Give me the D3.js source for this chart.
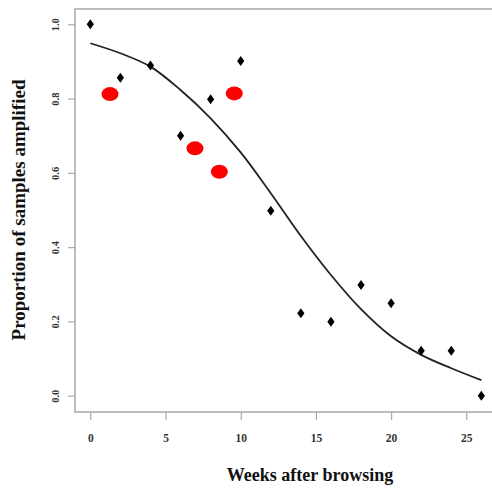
<!DOCTYPE html>
<html><head><meta charset="utf-8">
<script src="https://cdn.jsdelivr.net/npm/d3@7"></script>
<style>body{margin:0;background:#fff}svg{display:block}</style>
</head><body>
<script>
const weeks = [0,2,4,6,8,10,12,14,16,18,20,22,24,26];
const observed = [1.0,0.856,0.889,0.700,0.798,0.901,0.498,0.222,0.199,0.298,0.249,0.121,0.121,0.0];
const fitted = [0.949,0.922,0.886,0.823,0.747,0.655,0.545,0.430,0.325,0.233,0.160,0.110,0.074,0.042];
const redWeeks = [1.31,6.96,8.58,9.57];
const redValues = [0.812,0.666,0.603,0.814];
const xTicks = [0,5,10,15,20,25];
const yTicks = [0.0,0.2,0.4,0.6,0.8,1.0];

const W=492,H=489;
const svg=d3.select("body").append("svg").attr("width",W).attr("height",H);
const x=d3.scaleLinear().domain([0,25]).range([90.3,466.3]);
const y=d3.scaleLinear().domain([0,1]).range([395.7,24.3]);
const font="'Liberation Serif','Times New Roman',serif";
const frameCol="#a8a8a8";

// frame: top, left, bottom
svg.append("path").attr("d",`M${W},9H75V412H${W}`).attr("fill","none").attr("stroke",frameCol).attr("stroke-width",1.5);

// y axis
const ya=svg.append("g").attr("transform","translate(75,0)")
  .call(d3.axisLeft(y).tickValues(yTicks).tickFormat(d3.format(".1f")).tickSize(7).tickPadding(0));
ya.select(".domain").remove();
ya.selectAll("line").attr("stroke",frameCol).attr("stroke-width",1.2);
ya.selectAll("text").attr("font-family",font).attr("font-weight","bold").attr("font-size",10.5).attr("fill","#333")
  .attr("text-anchor","middle").attr("x",0).attr("dy",null)
  .attr("transform",d=>`translate(-20,0) rotate(-90)`).attr("y",3.5);

// x axis
const xa=svg.append("g").attr("transform","translate(0,412)")
  .call(d3.axisBottom(x).tickValues(xTicks).tickFormat(d3.format("d")).tickSize(8).tickPadding(14));
xa.select(".domain").remove();
xa.selectAll("line").attr("stroke",frameCol).attr("stroke-width",1.2);
xa.selectAll("text").attr("font-family",font).attr("font-weight","bold").attr("font-size",11.5).attr("fill","#333");

// labels
svg.append("text").attr("x",310).attr("y",481).attr("text-anchor","middle")
  .attr("font-family",font).attr("font-weight","bold").attr("font-size",18).attr("fill","#111")
  .text("Weeks after browsing");
svg.append("text").attr("transform","translate(25,210) rotate(-90)").attr("text-anchor","middle")
  .attr("font-family",font).attr("font-weight","bold").attr("font-size",19).attr("fill","#111")
  .text("Proportion of samples amplified");

// fitted curve
svg.append("path").datum(weeks.map((w,i)=>[w,fitted[i]]))
  .attr("d",d3.line().x(d=>x(d[0])).y(d=>y(d[1])).curve(d3.curveCatmullRom))
  .attr("fill","none").attr("stroke","#222").attr("stroke-width",1.8);

// red points
svg.selectAll("ellipse.red").data(redWeeks.map((w,i)=>[w,redValues[i]])).join("ellipse")
  .attr("cx",d=>x(d[0])).attr("cy",d=>y(d[1])).attr("rx",8.5).attr("ry",7).attr("fill","#f00");

// diamonds
svg.selectAll("path.dia").data(weeks.map((w,i)=>[w,observed[i]])).join("path")
  .attr("class","dia")
  .attr("d",d=>{const cx=x(d[0]),cy=y(d[1]);return `M${cx},${cy-5}L${cx+3.6},${cy}L${cx},${cy+5}L${cx-3.6},${cy}Z`;})
  .attr("fill","#000");
</script>
</body></html>
